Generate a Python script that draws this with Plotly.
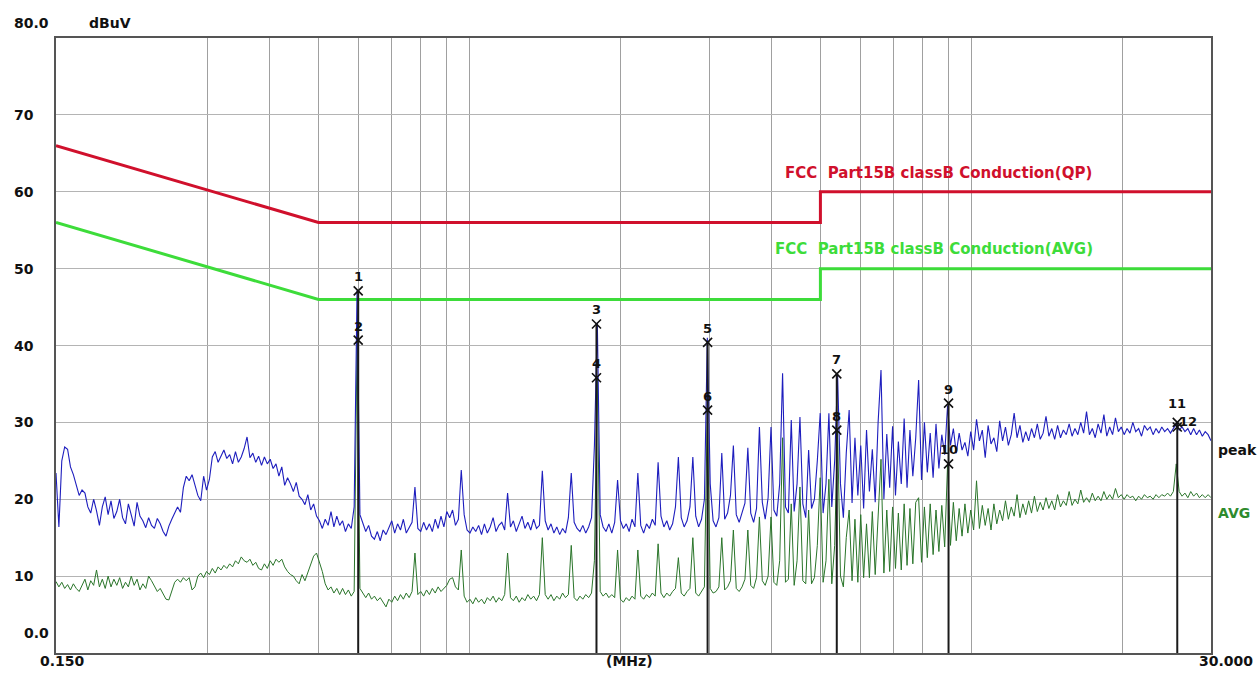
import numpy as np
import plotly.graph_objects as go

# ---------------- data ----------------
F_START, F_STOP, N_POINTS = 0.15, 30.0, 400  # sweep (MHz, log sweep)
FREQ = np.geomspace(F_START, F_STOP, N_POINTS)

PEAK = [
    23.4, 16.4, 25, 26.8, 26.5, 24.2, 23.2, 22, 20.5, 21.2,
    20.8, 19, 18.2, 20, 18.5, 16.6, 19, 20.3, 18, 19.8,
    17.5, 18.4, 20, 17.6, 16.8, 19.4, 18, 16.5, 19.6, 17.8,
    17.2, 16.3, 17.6, 16.6, 16.2, 17.5, 16.8, 15.8, 15.2, 16.5,
    17.4, 18.2, 19, 18.3, 21.5, 23, 22.4, 23.2, 22, 20.5,
    19.8, 23, 21.2, 22.6, 25.5, 26.2, 24.8, 25.6, 26.4, 25.3,
    25.8, 24.6, 26.2, 24.8, 25.5, 26.6, 28.1, 25.4, 26, 24.8,
    25.6, 24.4, 25.5, 24.6, 25.2, 24, 24.6, 23, 24.2, 21.8,
    22.8, 22, 21, 22.2, 20.4, 20, 19.3, 20.6, 18.6, 19.4,
    17.8, 17.2, 16.2, 17.4, 16.6, 18.4, 16.4, 17.8, 16.6, 17.2,
    15.8, 16.8, 16.2, 19, 47.2, 18, 16.8, 15.8, 16.6, 15.2,
    14.8, 15.8, 14.6, 16, 15.4, 16.2, 17.2, 15.6, 16.8, 16,
    17.4, 15.6, 16.4, 17, 21.6, 16.2, 15.8, 17, 16, 16.8,
    15.8, 17.4, 16.2, 17.8, 16.4, 18.4, 17.6, 18.6, 16.6, 17.4,
    23.8, 18, 16, 15.6, 16.4, 15.8, 16.6, 15.4, 16.8, 15.6,
    16.4, 17.6, 15.8, 16.6, 17, 16, 20.8, 16.4, 17.2, 15.8,
    16.8, 17.8, 16.2, 17, 16, 17.4, 16.2, 16.6, 23.7, 17.2,
    16, 16.8, 15.6, 16.4, 15.4, 16.2, 15.6, 17.6, 23.4, 17,
    16.2, 15.8, 16.6, 15.6, 16.4, 17.6, 27, 43, 18, 16.4,
    15.8, 16.8, 15.6, 17, 22.5, 17.2, 16.2, 16.8, 15.8, 17.4,
    16.4, 23.4, 16.6, 15.6, 16.8, 16.2, 17.4, 16.6, 24.8, 17.8,
    16.4, 17.2, 16, 16.8, 19, 25.5, 17.6, 16.4, 17.2, 19,
    25.5, 17.8, 16.4, 17.4, 20, 41, 22, 17.2, 16.4, 17.6,
    26, 17.4, 18.2, 20.5, 27, 18, 17, 18.4, 19.5, 26.7,
    18.2, 17, 18.8, 29.4, 19.6, 17.4, 20.2, 29.4, 18.6, 17.8,
    22, 36.4, 19, 18.2, 30.3, 18.4, 22, 30.7, 19.4, 17.6,
    26.4, 18.8, 20, 25, 31.2, 18.2, 22, 31.2, 19, 25,
    36.3, 22, 17.6, 26, 31.6, 19.5, 28, 20.5, 27, 18.8,
    29, 21, 26.5, 19.6, 30, 36.8, 20, 28.5, 21.5, 29.5,
    20.5, 27.5, 22, 30.5, 21.5, 29, 23, 28, 35.5, 22.5,
    30, 23.5, 28.6, 22.8, 29.8, 24, 28.4, 25.8, 32.2, 27,
    29.2, 26, 28.6, 26.4, 27.4, 25.6, 28.8, 26.4, 30.4, 27.6,
    29, 25.4, 29.6, 27.2, 28, 26.2, 30.2, 27.6, 29.4, 27,
    28.4, 31.2, 28, 29.6, 27.4, 28.8, 27.6, 29.2, 28, 29.8,
    27.8, 28.6, 30.8, 28.2, 29.2, 27.8, 29.6, 28, 29, 28.4,
    29.8, 28.2, 29.2, 28.4, 30, 28.6, 31.4, 28.4, 29.2, 28,
    29.8, 28.6, 31, 28.2, 29.4, 28.4, 30.6, 28.8, 29.4, 28.4,
    29.2, 28.6, 30, 28.8, 29.2, 28.2, 29.6, 29, 29.4, 28.4,
    29.2, 28.6, 29.4, 28.8, 29.2, 28.6, 29.2, 29.8, 29, 29.4,
    28.8, 29.2, 28.4, 29.2, 28.4, 29, 28.2, 28.8, 28.4, 27.6,
]

AVG = [
    9.3, 8.6, 9.2, 8.4, 8.9, 8.2, 9, 8.4, 8, 8.8,
    9.6, 8.2, 9.4, 8.8, 10.8, 8.6, 9.6, 8.4, 10, 8.6,
    9.6, 8.8, 9.8, 8.4, 9.2, 8.6, 10, 8.8, 9.6, 8.2,
    9, 8.4, 10, 9.4, 8.6, 8, 8.4, 7.6, 7, 6.9,
    8.2, 9.2, 9.6, 9.2, 9.8, 9.4, 9.8, 8.2, 8.6, 10,
    10.4, 9.8, 10.6, 10.2, 11, 10.4, 11.2, 10.8, 11.4, 11,
    11.6, 11.2, 12, 11.6, 12.5, 12, 11.8, 12.2, 11.4, 11.8,
    11, 10.8, 11.6, 11, 12, 11.4, 12.2, 11.8, 12.2, 11.2,
    10.6, 10.2, 10, 9.4, 9, 10.2, 9.4, 10.4, 11.6, 12.6,
    13, 11.8, 10.6, 9, 8.2, 8.6, 7.8, 8.4, 7.6, 8.4,
    7.6, 8.2, 7.4, 8, 40.7, 8.4, 7.8, 7.2, 7.8, 7,
    7.4, 6.8, 7.2, 6.6, 6, 7, 6.6, 7.4, 6.8, 7.6,
    7, 7.8, 7.2, 8, 13, 7.6, 8, 7.4, 8.2, 7.6,
    8.4, 7.8, 8.6, 8, 8.4, 8.8, 9.6, 9.8, 8.6, 8.2,
    13.4, 7.4, 6.6, 7, 6.4, 7.2, 6.6, 7, 6.4, 7.2,
    6.8, 7.4, 6.6, 7.2, 6.8, 7.6, 13, 7.2, 6.8, 7.4,
    6.6, 7.2, 6.8, 7.6, 7, 7.4, 6.8, 7.6, 15, 7.6,
    7, 7.6, 6.8, 7.4, 7, 7.8, 7.2, 7.6, 14, 7.2,
    6.8, 7.4, 7, 7.6, 7.2, 7.8, 12, 35.8, 8, 7.4,
    7.8, 7.2, 7.6, 7.2, 13.4, 7, 6.6, 7.2, 6.8, 7.4,
    7, 13.4, 7.4, 7, 7.6, 7.2, 7.8, 7.4, 14.2, 7.8,
    7.2, 7.8, 7.4, 8, 8.4, 12.4, 7.8, 7.4, 8, 8.4,
    15, 7.8, 7.4, 8, 8.6, 31.6, 8.4, 7.8, 8, 8.6,
    15, 8.2, 8.6, 9.4, 16, 8.4, 8, 8.6, 9.6, 16,
    8.8, 8.4, 9.8, 17.7, 9.4, 8.8, 10, 17.7, 9.2, 8.8,
    12, 28, 9.2, 9.6, 19.4, 8.8, 12, 21.6, 9.4, 9,
    18.6, 9, 9.8, 14, 22.8, 9.2, 12, 22.6, 9, 14,
    29, 10, 8.6, 15, 18.6, 9.4, 17.4, 9.2, 18, 9.8,
    16.8, 9.8, 18.4, 10.2, 17.6, 25.2, 10.4, 18.6, 10.6, 19,
    11, 18.2, 10.8, 19.4, 11.4, 18.8, 11.6, 19.6, 20.2, 11.8,
    19, 12.4, 19.4, 12.8, 18.6, 13.2, 19.2, 13.8, 24.6, 14,
    19.6, 14.6, 18.8, 15.2, 19.4, 15.6, 18.6, 16, 22.4, 16.2,
    19.2, 16.6, 18.8, 16, 19.4, 16.8, 18.6, 17.2, 19.8, 17.4,
    19, 17.8, 20.6, 17.6, 19.4, 18, 19.8, 18.2, 20.4, 18.4,
    19.6, 18.6, 20.2, 18.8, 19.8, 18.6, 20.6, 19, 19.8, 19.2,
    21, 19.2, 20, 19.4, 21.2, 19.6, 20.2, 19.6, 20.8, 19.8,
    20.4, 19.8, 21, 20, 20.6, 20, 21.4, 20.2, 20.6, 20,
    20.6, 20.2, 20.4, 19.8, 20.4, 20, 20.6, 20.2, 20.4, 20,
    20.6, 20.2, 20.6, 20.4, 20.8, 20.4, 21, 24.6, 21, 20.4,
    20.8, 20.2, 21, 20.4, 20.8, 20.2, 20.6, 20.2, 20.6, 20.2,
]

# limit lines (MHz, dBuV)
LIMIT_F = [0.15, 0.5, 5.0, 5.0, 30.0]
LIMIT_QP = [66, 56, 56, 60, 60]
LIMIT_AV = [56, 46, 46, 50, 50]
LIMIT_QP_NAME = "FCC\u00a0 Part15B classB Conduction(QP)"
LIMIT_AV_NAME = "FCC\u00a0 Part15B classB Conduction(AVG)"

# measured markers
MARK_NO = [1, 2, 3, 4, 5, 6, 7, 8, 9, 10, 11, 12]
MARK_F = [0.6, 0.6, 1.79, 1.79, 2.98, 2.98, 5.39, 5.39, 9.0, 9.0, 25.7, 25.7]
MARK_DB = [47.1, 40.7, 42.8, 35.8, 40.4, 31.6, 36.3, 29.0, 32.5, 24.6, 30.0, 29.4]

# axes
X_GRID = [0.3, 0.4, 0.5, 0.6, 0.7, 0.8, 0.9, 1, 2, 3, 4, 5, 6, 7, 8, 9, 10, 20]
Y_TICKS = [0, 10, 20, 30, 40, 50, 60, 70, 80]
Y_LABELS = ["0.0", "10", "20", "30", "40", "50", "60", "70", "80.0"]
X_LABELS = {0.15: "0.150", 30.0: "30.000"}
Y_UNIT, X_UNIT = "dBuV", "(MHz)"

# ---------------- figure ----------------
FONT = "DejaVu Sans"
QP_COL = "#d0102c"
AV_COL = "#3ddc3a"
PEAK_COL = "#1e1ebe"
AVG_COL = "#2a752a"

fig = go.Figure()

fig.add_trace(go.Scatter(x=LIMIT_F, y=LIMIT_QP, mode="lines",
                         line=dict(color=QP_COL, width=3), hoverinfo="skip"))
fig.add_trace(go.Scatter(x=LIMIT_F, y=LIMIT_AV, mode="lines",
                         line=dict(color=AV_COL, width=3), hoverinfo="skip"))

fig.add_trace(go.Scatter(x=FREQ, y=AVG, mode="lines",
                         line=dict(color=AVG_COL, width=1)))
fig.add_trace(go.Scatter(x=FREQ, y=PEAK, mode="lines",
                         line=dict(color=PEAK_COL, width=1.1)))

# vertical marker lines
vx, vy = [], []
for k in range(0, len(MARK_F), 2):
    top = max(MARK_DB[k], MARK_DB[k + 1])
    vx += [MARK_F[k], MARK_F[k], None]
    vy += [0, top, None]
fig.add_trace(go.Scatter(x=vx, y=vy, mode="lines",
                         line=dict(color="#1a1a1a", width=2), hoverinfo="skip"))

fig.add_trace(go.Scatter(x=MARK_F, y=MARK_DB, mode="markers",
                         marker=dict(symbol="x-thin", size=9,
                                     line=dict(color="#111111", width=1.6))))

for n, f, v in zip(MARK_NO, MARK_F, MARK_DB):
    xs, ys = 0, 14
    if n == 11:
        ys = 19
    if n == 12:
        xs, ys = 11, 5
    fig.add_annotation(x=np.log10(f), y=v, text=str(n), showarrow=False,
                       xshift=xs, yshift=ys,
                       font=dict(family=FONT, size=13, color="#111111", weight="bold"))

# limit labels
fig.add_annotation(x=np.log10(8.6), y=62.5, text=LIMIT_QP_NAME, showarrow=False,
                   font=dict(family=FONT, size=15, color=QP_COL, weight="bold"))
fig.add_annotation(x=np.log10(8.4), y=52.6, text=LIMIT_AV_NAME, showarrow=False,
                   font=dict(family=FONT, size=15, color=AV_COL, weight="bold"))

# trace labels at right
fig.add_annotation(xref="paper", x=1.004, y=PEAK[-1] - 1.2, text="peak",
                   showarrow=False, xanchor="left",
                   font=dict(family=FONT, size=14, color="#111111", weight="bold"))
fig.add_annotation(xref="paper", x=1.004, y=AVG[-1] - 2.0, text="AVG",
                   showarrow=False, xanchor="left",
                   font=dict(family=FONT, size=14, color="#2e8b2e", weight="bold"))

# y tick labels
for v, lab in zip(Y_TICKS, Y_LABELS):
    shift = 0
    xoff = -44
    if v == 80:
        shift = 15
    if v == 0:
        shift = 20
        xoff = -34
    fig.add_annotation(xref="paper", x=0, y=v, text=lab, showarrow=False,
                       xanchor="left", xshift=xoff, yshift=shift,
                       font=dict(family=FONT, size=14, color="#111111", weight="bold"))
fig.add_annotation(xref="paper", x=0, y=80, text=Y_UNIT, showarrow=False,
                   xanchor="left", xshift=31, yshift=15,
                   font=dict(family=FONT, size=14, color="#111111", weight="bold"))

# x labels
for f, lab in X_LABELS.items():
    anchor = "center" if f == 0.15 else "right"
    xs = 6 if f == 0.15 else 44
    fig.add_annotation(x=np.log10(f), yref="paper", y=0, text=lab, showarrow=False,
                       xanchor=anchor, yanchor="top", xshift=xs, yshift=2,
                       font=dict(family=FONT, size=14, color="#111111", weight="bold"))
fig.add_annotation(x=np.log10(2.08), yref="paper", y=0, text=X_UNIT, showarrow=False,
                   yanchor="top", yshift=2,
                   font=dict(family=FONT, size=14, color="#111111", weight="bold"))

fig.update_xaxes(type="log", range=[np.log10(F_START), np.log10(F_STOP)],
                 tickvals=X_GRID, showticklabels=False, ticks="",
                 showgrid=True, gridcolor="#a0a0a0", gridwidth=1,
                 showline=True, linecolor="#555555", linewidth=2, mirror=True,
                 zeroline=False)
fig.update_yaxes(range=[0, 80], tickvals=Y_TICKS, showticklabels=False, ticks="",
                 showgrid=True, gridcolor="#b4b4b4", gridwidth=1,
                 showline=True, linecolor="#555555", linewidth=2, mirror=True,
                 zeroline=False)

fig.update_layout(width=1260, height=673,
                  margin=dict(l=56, r=49, t=38, b=20),
                  plot_bgcolor="white", paper_bgcolor="white",
                  showlegend=False)

fig.write_html("out.html", config={"displayModeBar": False},
               post_script="document.body.style.margin='0';")
